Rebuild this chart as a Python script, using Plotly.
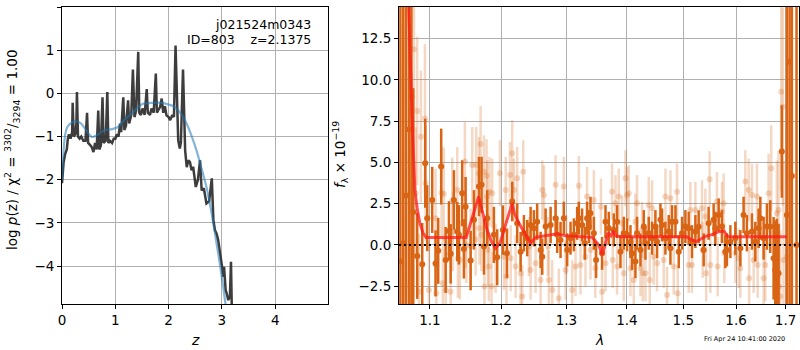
import plotly.graph_objects as go

# ---------------- left panel: log p(z) ----------------
pz_z = [0.00, 0.03, 0.06, 0.09, 0.11, 0.13, 0.16, 0.19, 0.20, 0.22, 0.25, 0.27, 0.28, 0.30, 0.33,
        0.36, 0.40, 0.44, 0.47, 0.49, 0.53, 0.56, 0.59, 0.62, 0.65, 0.68, 0.70, 0.73, 0.76, 0.78,
        0.82, 0.85, 0.87, 0.90, 0.94, 0.97, 1.00, 1.03, 1.06, 1.09, 1.11, 1.15, 1.17, 1.20, 1.24,
        1.26, 1.30, 1.33, 1.36, 1.39, 1.43, 1.45, 1.48, 1.51, 1.55, 1.59, 1.61, 1.65, 1.68, 1.72,
        1.76, 1.78, 1.80, 1.84, 1.87, 1.90, 1.93, 1.96, 2.00, 2.03, 2.07, 2.10, 2.13, 2.18, 2.21,
        2.23, 2.27, 2.29, 2.31, 2.34, 2.37, 2.40, 2.43, 2.46, 2.51, 2.55, 2.59, 2.62, 2.66, 2.71,
        2.76, 2.81, 2.84, 2.87, 2.90, 2.93, 2.96, 3.00, 3.03, 3.04, 3.07, 3.09, 3.12, 3.15, 3.17, 3.19]
pz_logp = [-2.08, -1.60, -1.40, -1.30, -1.05, -0.95, -1.05, -0.90, -0.22, -1.00, -0.95, -0.70, 0.03, -1.00, -1.05,
           -1.00, -1.10, -1.10, -0.45, -1.15, -1.20, -1.25, -1.36, -1.15, -1.30, -0.40, -1.30, -1.20, -0.09, -1.15,
           -1.10, 0.03, -1.15, -1.10, -1.15, -1.05, -1.05, -0.95, -1.00, -0.70, -0.90, -0.09, -0.85, -0.75, -0.16,
           -0.70, -0.50, 0.55, -0.55, -0.40, 0.96, -0.45, -0.50, -0.35, -0.50, 0.10, -0.45, -0.50, -0.35, -0.45,
           0.46, -0.45, -0.40, -0.32, -0.12, -0.45, -0.30, -0.51, -0.55, -0.62, -0.50, -0.55, 1.11, -1.09, -1.28,
           -1.15, 0.55, -0.80, -1.32, -1.71, -1.55, -1.59, -1.78, -1.70, -2.17, -2.00, -1.55, -2.25, -2.20, -2.55,
           -2.50, -1.97, -2.94, -3.17, -3.25, -3.40, -3.63, -3.94, -4.25, -4.02, -4.56, -4.64, -4.79, -4.70, -3.90, -5.30]

prior_z = [0.00, 0.02, 0.06, 0.10, 0.18, 0.27, 0.36, 0.45, 0.56, 0.68, 0.80, 0.94, 1.05, 1.16, 1.30,
           1.50, 1.70, 1.88, 2.00, 2.09, 2.20, 2.31, 2.42, 2.53, 2.62, 2.71, 2.78, 2.84, 2.90, 2.96, 3.02, 3.07]
prior_logp = [-2.00, -1.50, -0.95, -0.78, -0.68, -0.65, -0.70, -0.85, -1.01, -0.95, -0.85, -0.83, -0.78, -0.63, -0.48,
              -0.25, -0.22, -0.22, -0.26, -0.30, -0.42, -0.63, -0.95, -1.35, -1.75, -2.17, -2.60, -3.02, -3.48, -3.94, -4.45, -4.90]

# ---------------- right panel: spectrum ----------------
dark_wave = [1.0610, 1.0647, 1.0682, 1.0721, 1.0754, 1.0778, 1.0830, 1.0897, 1.0937, 1.0964, 1.1031, 1.1076,
             1.1112, 1.1153, 1.1214, 1.1259, 1.1283, 1.1328, 1.1374, 1.1397, 1.1443, 1.1467, 1.1491, 1.1562,
             1.1609, 1.1680, 1.1718, 1.1752, 1.1799, 1.1896, 1.1944, 1.2028, 1.2088, 1.2166, 1.2240, 1.2292,
             1.2341, 1.2391, 1.2443, 1.2493, 1.2543, 1.2596, 1.2621, 1.2673, 1.2751, 1.2829, 1.2854, 1.2907,
             1.2959, 1.3012, 1.3066, 1.3119, 1.3172, 1.3199, 1.3252, 1.3296, 1.3333, 1.3362, 1.3389, 1.3444,
             1.3481, 1.3580, 1.3637, 1.3692, 1.3776, 1.3832, 1.3889, 1.3945, 1.4002, 1.4060, 1.4088, 1.4146,
             1.4174, 1.4233, 1.4291, 1.4320, 1.4378, 1.4437, 1.4496, 1.4525, 1.4585, 1.4614, 1.4675, 1.4734,
             1.4765, 1.4794, 1.4856, 1.4916, 1.4976, 1.5038, 1.5099, 1.5160, 1.5223, 1.5284, 1.5378, 1.5472,
             1.5567, 1.5599, 1.5663, 1.5726, 1.5791, 1.5822, 1.5889, 1.5986, 1.6084, 1.6148, 1.6214, 1.6314,
             1.6381, 1.6448, 1.6482, 1.6549, 1.6616, 1.6684, 1.6752, 1.6786, 1.6819, 1.6854, 1.6922, 1.7027,
             1.7083, 1.7131, 1.7229]
dark_flux = [-1.00, 0.10, 3.00, 7.00, 9.00, 2.00, -0.67, -1.17, 4.95, 1.62, 2.73, -1.12,
             -0.36, 4.75, -0.91, 0.85, -0.54, 2.73, 0.81, 0.61, 3.13, -0.24, 2.32, -0.95,
             1.52, 3.54, 3.64, -0.10, 1.62, 0.61, -0.75, 0.90, -0.50, 2.63, 1.31, -0.41,
             0.71, 0.41, 1.21, 1.01, 1.41, -0.30, -0.71, 1.11, 1.21, 1.62, 0.61, 0.30,
             1.62, -0.30, 0.41, 0.61, 1.31, 1.62, 1.21, 0.10, 1.62, 1.11, 1.92, 0.71,
             -0.91, -0.51, 1.41, 1.01, 0.91, 1.41, -0.41, 0.71, 0.61, 0.20, -0.51, -1.01,
             0.71, -0.30, 1.11, 0.10, 0.71, 0.41, 1.11, 0.20, 1.52, 1.21, 0.41, 0.81,
             -0.20, 1.41, 1.41, -0.41, 0.71, 1.11, 1.01, 0.20, 0.81, 1.10, -0.30, 1.31,
             1.52, 1.01, 1.82, 1.11, -0.41, -0.30, 0.20, 0.41, -0.20, 1.82, 0.71, 0.81,
             0.20, 1.01, 1.62, 0.41, 1.11, 1.11, -0.81, -1.52, -1.92, -1.72, 5.66, 1.82,
             11.10, 4.18, 0.00]
dark_err = [20.0, 20.0, 18.0, 15.0, 15.0, 7.5, 2.6, 2.5, 2.7, 2.0, 2.0, 2.0,
            2.0, 2.3, 2.0, 1.8, 1.8, 1.8, 1.8, 1.8, 2.0, 1.8, 1.8, 1.8,
            1.8, 1.8, 1.7, 1.7, 1.7, 1.7, 1.7, 1.5, 1.5, 1.2, 1.2, 1.2,
            1.1, 1.1, 1.1, 1.1, 1.1, 1.1, 1.1, 1.1, 1.1, 1.1, 1.1, 1.1,
            1.0, 1.0, 1.0, 1.0, 1.0, 1.0, 1.0, 1.0, 1.0, 1.0, 1.0, 1.0,
            1.1, 1.0, 1.0, 1.0, 1.0, 1.0, 1.0, 1.0, 1.0, 1.0, 1.0, 1.0,
            1.0, 1.0, 1.0, 1.0, 1.0, 1.0, 1.0, 1.0, 1.0, 1.0, 1.0, 1.0,
            1.0, 1.0, 1.0, 1.0, 1.0, 1.0, 1.0, 1.0, 1.0, 1.0, 1.0, 1.0,
            1.0, 1.0, 1.0, 1.0, 1.0, 1.0, 1.0, 1.0, 1.1, 1.1, 1.1, 1.1,
            1.2, 1.2, 1.3, 1.3, 1.4, 1.6, 2.5, 3.0, 3.5, 3.0, 2.8, 20.0,
            20.0, 20.0, 20.0]

light_wave = [1.0787, 1.0809, 1.0830, 1.0853, 1.0879, 1.0933, 1.0942, 1.0987, 1.1076, 1.1087, 1.1158, 1.1175,
              1.1189, 1.1214, 1.1283, 1.1305, 1.1315, 1.1374, 1.1383, 1.1411, 1.1481, 1.1491, 1.1502, 1.1562,
              1.1585, 1.1633, 1.1641, 1.1680, 1.1687, 1.1704, 1.1715, 1.1752, 1.1759, 1.1790, 1.1799, 1.1809,
              1.1823, 1.1833, 1.1862, 1.1871, 1.1921, 1.1984, 1.2043, 1.2069, 1.2080, 1.2132, 1.2143, 1.2166,
              1.2191, 1.2217, 1.2240, 1.2292, 1.2316, 1.2331, 1.2417, 1.2443, 1.2519, 1.2596, 1.2621, 1.2647,
              1.2709, 1.2724, 1.2776, 1.2829, 1.2880, 1.2959, 1.2986, 1.2999, 1.3092, 1.3146, 1.3199, 1.3226,
              1.3307, 1.3333, 1.3389, 1.3444, 1.3468, 1.3561, 1.3580, 1.3637, 1.3747, 1.3759, 1.3805, 1.3832,
              1.3860, 1.3916, 1.3945, 1.3974, 1.4002, 1.4031, 1.4060, 1.4117, 1.4146, 1.4174, 1.4233, 1.4261,
              1.4273, 1.4320, 1.4378, 1.4396, 1.4437, 1.4466, 1.4525, 1.4644, 1.4675, 1.4704, 1.4765, 1.4825,
              1.4885, 1.4897, 1.5099, 1.5130, 1.5160, 1.5223, 1.5346, 1.5359, 1.5410, 1.5425, 1.5491, 1.5504,
              1.5630, 1.5644, 1.5726, 1.5759, 1.5772, 1.5986, 1.6050, 1.6084, 1.6182, 1.6248, 1.6258, 1.6314,
              1.6348, 1.6414, 1.6428, 1.6549, 1.6583, 1.6650, 1.6704, 1.6819, 1.6854, 1.6864, 1.6889, 1.6909,
              1.6942, 1.6956, 1.7027]
light_flux = [11.86, 3.13, 8.12, -2.83, 6.56, 7.67, 3.74, -2.73, 1.62, -2.93, 3.17, -2.32,
              3.09, -2.73, -2.83, 2.69, 0.81, 3.33, -0.81, -0.91, 5.05, 0.91, 0.00, -0.10,
              4.85, 0.34, 4.85, 4.34, 1.01, 6.12, 0.61, 4.44, -2.52, 4.20, 2.93, -0.30,
              -1.31, 3.23, -2.52, 3.13, -0.81, 4.35, -0.71, 3.33, -1.92, 4.24, -0.81, 5.56,
              3.33, -1.31, 4.04, -1.72, -3.13, 4.44, -0.10, -1.52, -1.11, -2.12, 3.33, 3.03,
              -0.10, -2.12, -2.73, 3.64, -3.23, 3.54, -1.52, 0.00, -2.73, -1.31, 3.58, -1.21,
              -0.71, 2.93, -0.30, 2.73, -1.41, 2.32, -2.83, -1.11, 3.23, -0.91, 2.53, -1.31,
              2.93, 1.31, -1.72, 4.04, 3.03, 3.13, -1.41, -2.12, 1.41, 2.53, -1.41, 0.91,
              -1.72, -1.72, 2.42, -2.12, 2.22, -0.71, -1.11, -0.91, 2.93, -3.03, 2.83, -1.31,
              3.23, -2.93, -1.21, 2.12, -1.21, 2.12, 2.22, -0.30, 1.72, -1.72, 3.98, -1.21,
              2.63, -1.31, 2.02, 2.53, -0.51, -0.51, -0.81, -1.41, 3.84, 3.33, -2.02, 3.03,
              -0.91, 2.93, -1.21, -2.02, -1.21, 3.13, 4.65, 1.92, 2.12, -2.52, -3.13, 9.29,
              8.38, -0.91, -0.71]
light_err = [5.0, 4.0, 4.5, 3.5, 4.0, 4.5, 3.5, 3.0, 3.0, 3.0, 2.8, 2.8,
             2.8, 2.6, 2.6, 2.6, 2.4, 2.6, 2.4, 2.4, 2.4, 2.3, 2.3, 2.3,
             2.3, 2.2, 2.3, 2.2, 2.2, 2.3, 2.2, 2.2, 2.2, 2.2, 2.2, 2.2,
             2.1, 2.1, 2.1, 2.1, 2.1, 2.0, 2.0, 2.0, 2.0, 2.0, 2.0, 2.0,
             1.9, 1.9, 1.9, 1.9, 1.9, 1.9, 1.8, 1.8, 1.8, 1.8, 1.8, 1.8,
             1.8, 1.8, 1.8, 1.8, 1.8, 1.8, 1.8, 1.8, 1.8, 1.8, 1.8, 1.8,
             1.8, 1.8, 1.8, 1.8, 1.8, 1.7, 1.7, 1.7, 1.7, 1.7, 1.7, 1.7,
             1.7, 1.7, 1.7, 1.7, 1.7, 1.7, 1.7, 1.7, 1.7, 1.7, 1.7, 1.7,
             1.7, 1.7, 1.7, 1.7, 1.7, 1.7, 1.7, 1.7, 1.7, 1.7, 1.7, 1.7,
             1.7, 1.7, 1.7, 1.7, 1.7, 1.7, 1.7, 1.7, 1.7, 1.7, 1.7, 1.7,
             1.8, 1.8, 1.8, 1.8, 1.8, 1.8, 1.8, 1.8, 1.9, 1.9, 1.9, 1.9,
             2.0, 2.0, 2.0, 2.1, 2.2, 2.4, 2.6, 3.2, 3.6, 3.8, 4.0, 6.0,
             6.0, 6.0, 8.0]

model_wave = [1.0715, 1.0734, 1.0760, 1.0780, 1.0800, 1.0830, 1.0866, 1.0910, 1.0950, 1.1500, 1.1560, 1.1620,
              1.1675, 1.1720, 1.1790, 1.1860, 1.1920, 1.1984, 1.2060, 1.2130, 1.2166, 1.2200, 1.2266, 1.2341,
              1.2443, 1.2519, 1.2673, 1.2854, 1.2986, 1.3417, 1.3526, 1.3580, 1.3630, 1.3680, 1.3730, 1.3770,
              1.3810, 1.3900, 1.5060, 1.5160, 1.5240, 1.5400, 1.5560, 1.5663, 1.5760, 1.5840, 1.7030]
model_flux = [15.0, 11.6, 8.0, 5.5, 3.3, 2.2, 1.3, 0.7, 0.45, 0.45, 1.3, 2.3,
              2.93, 2.2, 1.0, 0.2, -0.2, 0.1, 1.1, 2.1, 2.53, 1.9, 1.31, 0.8,
              0.1, 0.46, 0.55, 0.67, 0.55, 0.46, 0.0, -0.6, 0.0, 0.73, 0.55, 0.85,
              0.55, 0.5, 0.5, 0.3, 0.2, 0.5, 0.65, 0.8, 0.85, 0.5, 0.5]

z_ticks = [0, 1, 2, 3, 4]
logp_ticks = [-4, -3, -2, -1, 0, 1, 2]
wave_ticks = [1.1, 1.2, 1.3, 1.4, 1.5, 1.6, 1.7]
flux_ticks = [-2.5, 0.0, 2.5, 5.0, 7.5, 10.0, 12.5]

FONT = "DejaVu Sans"
ORANGE = "rgb(217,100,20)"
ORANGE_LIGHT = "rgba(217,100,20,0.25)"

fig = go.Figure()

fig.add_trace(go.Scatter(x=pz_z, y=pz_logp, mode="lines", xaxis="x", yaxis="y",
                         line=dict(color="rgba(40,40,40,0.9)", width=2.5), showlegend=False))
fig.add_trace(go.Scatter(x=prior_z, y=prior_logp, mode="lines", xaxis="x", yaxis="y",
                         line=dict(color="rgba(31,119,180,0.55)", width=2.2, shape="spline", smoothing=0.8),
                         showlegend=False))

fig.add_trace(go.Scatter(x=light_wave, y=light_flux, mode="markers", xaxis="x2", yaxis="y2",
                         marker=dict(color=ORANGE_LIGHT, size=6),
                         error_y=dict(type="data", array=light_err, color=ORANGE_LIGHT, thickness=2.5, width=0),
                         showlegend=False))
fig.add_trace(go.Scatter(x=dark_wave, y=dark_flux, mode="markers", xaxis="x2", yaxis="y2",
                         marker=dict(color=ORANGE, size=6),
                         error_y=dict(type="data", array=dark_err, color=ORANGE, thickness=2.5, width=0),
                         showlegend=False))
fig.add_trace(go.Scatter(x=model_wave, y=model_flux, mode="lines", xaxis="x2", yaxis="y2",
                         line=dict(color="rgba(255,25,25,0.75)", width=3), showlegend=False))
fig.add_trace(go.Scatter(x=[1.0591, 1.7281], y=[0, 0], mode="lines", xaxis="x2", yaxis="y2",
                         line=dict(color="black", width=2, dash="2px,3px"), showlegend=False))

def fmt(v):
    s = f"{v:.1f}" if isinstance(v, float) else str(v)
    return s.replace("-", "\u2212")

axis_common = dict(showline=True, mirror=True, linecolor="black", linewidth=1,
                   ticks="outside", ticklen=4, tickcolor="black", showgrid=True,
                   gridcolor="#b0b0b0", gridwidth=1, zeroline=False, automargin=False,
                   tickfont=dict(family=FONT, size=13.5, color="black"))

yd = [1 - 304 / 350, 1 - 7 / 350]
fig.update_layout(
    width=800, height=350, margin=dict(l=0, r=0, t=0, b=0, autoexpand=False),
    paper_bgcolor="white", plot_bgcolor="white",
    font=dict(family=FONT, color="black"),
    xaxis=dict(domain=[62 / 800, 328 / 800], range=[0, 4.99], tickvals=z_ticks,
               ticktext=[fmt(v) for v in z_ticks], anchor="y", **axis_common),
    yaxis=dict(domain=yd, range=[-4.88, 2.0], tickvals=logp_ticks,
               ticktext=[fmt(v) for v in logp_ticks], anchor="x", **axis_common),
    xaxis2=dict(domain=[399 / 800, 799 / 800], type="log", range=[0.02496, 0.23757],
                tickvals=wave_ticks, ticktext=[fmt(v) for v in wave_ticks], anchor="y2", **axis_common),
    yaxis2=dict(domain=yd, range=[-3.58, 14.42], tickvals=flux_ticks,
                ticktext=[fmt(v) for v in flux_ticks], anchor="x2", **axis_common),
)

ann = [
    dict(text="j021524m0343", x=313 / 800, y=1 - 24 / 350, xanchor="right", yanchor="middle",
         font=dict(size=12.5)),
    dict(text="ID=803\u00a0\u00a0\u00a0\u00a0z=2.1375", x=313 / 800, y=1 - 39 / 350, xanchor="right",
         yanchor="middle", font=dict(size=12.5)),
    dict(text="<i>z</i>", x=195 / 800, y=1 - 340 / 350, xanchor="center", yanchor="middle",
         font=dict(size=14)),
    dict(text="<i>λ</i>", x=599 / 800, y=1 - 340 / 350, xanchor="center", yanchor="middle",
         font=dict(size=14)),
    dict(text="log <i>p</i>(z) / χ<sup>2</sup> = <sup>3302</sup>/<sub>3294</sub> = 1.00",
         x=12 / 800, y=1 - 150 / 350, textangle=-90, xanchor="center", yanchor="middle",
         font=dict(size=13.5)),
    dict(text="<i>f</i><sub>λ</sub> × 10<sup>\u221219</sup>", x=340 / 800, y=1 - 155 / 350,
         textangle=-90, xanchor="center", yanchor="middle", font=dict(size=13.5)),
    dict(text="Fri Apr 24 10:41:00 2020", x=787 / 800, y=1 - 339 / 350, xanchor="right",
         yanchor="middle", font=dict(size=6.5)),
]
for a in ann:
    a.update(xref="paper", yref="paper", showarrow=False)
    a.setdefault("font", {})
    a["font"].setdefault("family", FONT)
    a["font"].setdefault("color", "black")
fig.update_layout(annotations=ann)

fig.write_html("out.html", config={"displayModeBar": False},
               post_script="document.body.style.margin='0px';document.body.style.overflow='hidden';")
